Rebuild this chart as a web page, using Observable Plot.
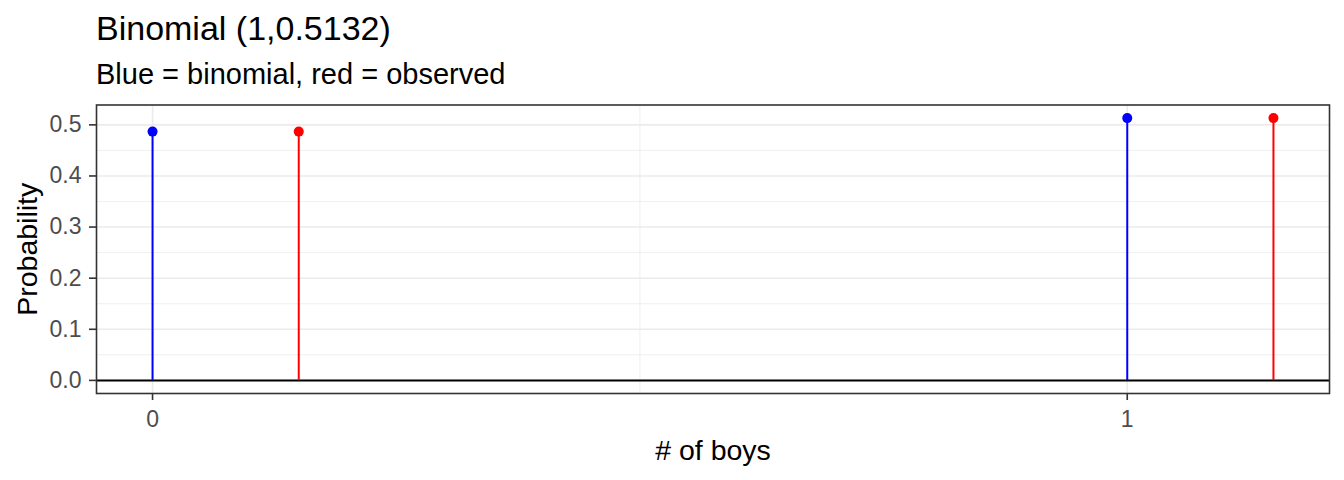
<!DOCTYPE html>
<html>
<head>
<meta charset="utf-8">
<script src="https://cdn.jsdelivr.net/npm/d3@7"></script>
<script src="https://cdn.jsdelivr.net/npm/@observablehq/plot@0.6"></script>
<style>
  html, body { margin: 0; padding: 0; background: white; }
  #wrap { position: relative; width: 1344px; height: 480px; font-family: "Liberation Sans", Arial, sans-serif; }
  #title { position: absolute; left: 96px; top: 11.2px; font-size: 34px; line-height: 1; color: #000; white-space: nowrap; }
  #subtitle { position: absolute; left: 96px; top: 59.5px; font-size: 29px; line-height: 1; color: #000; white-space: nowrap; }
  #chart { position: absolute; left: 0; top: 100px; }
</style>
</head>
<body>
<div id="wrap">
  <div id="title"></div>
  <div id="subtitle"></div>
  <div id="chart"></div>
</div>
<script>
// ---- data ----
const titleText = "Binomial (1,0.5132)";
const subtitleText = "Blue = binomial, red = observed";
const xTitle = "# of boys";
const yTitle = "Probability";
const categories = [0, 1];
const binomial = [0.4868, 0.5132];
const observed = [0.4868, 0.5132];
const dodge = 0.15;
const seriesNames = ["binomial", "observed"];
const seriesColors = ["#0000FF", "#FF0000"];
const xTicks = [0, 1];
const xMinor = [0.5];
const yTicks = [0, 0.1, 0.2, 0.3, 0.4, 0.5];
const yMinor = [0.05, 0.15, 0.25, 0.35, 0.45];

document.getElementById("title").textContent = titleText;
document.getElementById("subtitle").textContent = subtitleText;

const table = categories.flatMap((k, i) => [
  {x: k, p: binomial[i], series: seriesNames[0]},
  {x: k + dodge, p: observed[i], series: seriesNames[1]}
]);

// ggplot-like 5% expansion
const xs = table.map(d => d.x);
const xmin = d3.min(xs), xmax = d3.max(xs);
const xpad = 0.05 * (xmax - xmin);
const ymin = 0, ymax = d3.max(table, d => d.p);
const ypad = 0.05 * (ymax - ymin);

const chart = Plot.plot({
  width: 1344,
  height: 380,
  marginTop: 4.5,
  marginBottom: 87,
  marginLeft: 96,
  marginRight: 15,
  style: {fontFamily: "'Liberation Sans', Arial, sans-serif", fontSize: "23px", background: "white", overflow: "visible"},
  x: {domain: [xmin - xpad, xmax + xpad]},
  y: {domain: [ymin - ypad, ymax + ypad]},
  color: {domain: seriesNames, range: seriesColors},
  marks: [
    Plot.gridY(yMinor, {stroke: "#EBEBEB", strokeOpacity: 1, strokeWidth: 0.8}),
    Plot.gridX(xMinor, {stroke: "#EBEBEB", strokeOpacity: 1, strokeWidth: 0.8}),
    Plot.gridY(yTicks, {stroke: "#EBEBEB", strokeOpacity: 1, strokeWidth: 1.6}),
    Plot.gridX(xTicks, {stroke: "#EBEBEB", strokeOpacity: 1, strokeWidth: 1.6}),
    Plot.ruleY([0], {stroke: "#000", strokeWidth: 2}),
    Plot.ruleX(table, {x: "x", y1: 0, y2: "p", stroke: "series", strokeWidth: 2}),
    Plot.dot(table, {x: "x", y: "p", fill: "series", r: 5, stroke: null}),
    Plot.frame({stroke: "#333333", strokeWidth: 1.6}),
    Plot.axisX(xTicks, {tickSize: 7, tickPadding: 10, fontSize: 23, stroke: "#333333", fill: "#4D4D4D", strokeWidth: 1.6, tickFormat: d => String(d), label: null}),
    Plot.axisY(yTicks, {tickSize: 7, tickPadding: 8, fontSize: 23, stroke: "#333333", fill: "#4D4D4D", strokeWidth: 1.6, tickFormat: d3.format(".1f"), label: null}),
    Plot.text([xTitle], {text: d => d, frameAnchor: "bottom", textAnchor: "middle", lineAnchor: "middle", dy: 57, fontSize: 28.5, fill: "#000"}),
    Plot.text([yTitle], {text: d => d, frameAnchor: "left", textAnchor: "middle", lineAnchor: "middle", rotate: -90, dx: -69, fontSize: 28.5, fill: "#000"})
  ]
});
document.getElementById("chart").appendChild(chart);
</script>
</body>
</html>
